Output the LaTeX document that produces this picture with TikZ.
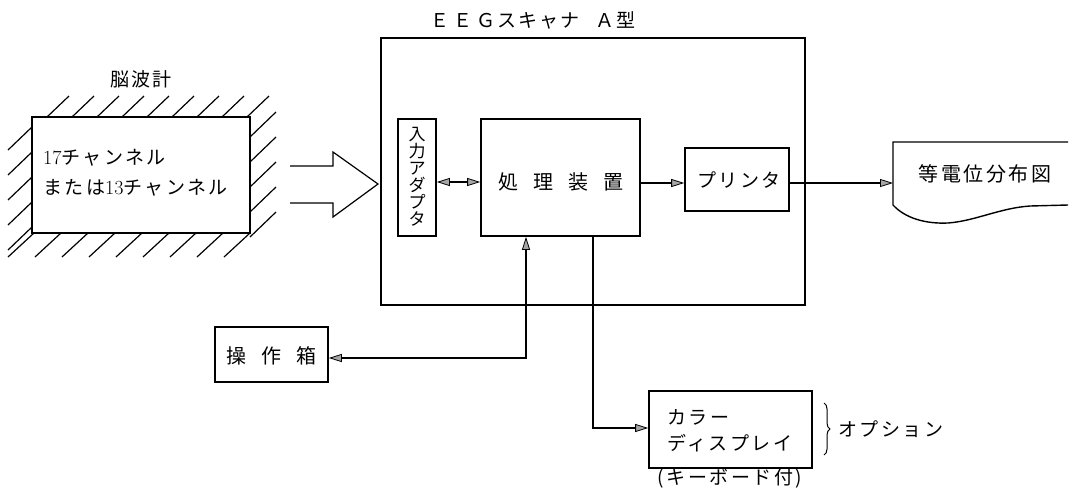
\documentclass[tikz,border=0pt]{standalone}
\usepackage{fontspec}
\newfontfamily\cjk{Noto Sans CJK JP}
\newfontfamily\cjkw[LetterSpace=13]{Noto Sans CJK JP}
\usetikzlibrary{arrows.meta,decorations.pathreplacing}
\tikzset{
  box/.style={draw, line width=1.6pt, inner sep=0pt},
  conn/.style={line width=1.2pt},
  tipshape/.tip={Triangle[length=13pt,width=8pt,fill=gray!70,line width=0.8pt]},
  tip/.style={-tipshape},
  bitip/.style={tipshape-tipshape},
  lbl/.style={inner sep=0pt, font=\cjkw\fontsize{19pt}{22pt}\selectfont},
  big/.style={inner sep=0pt, font=\cjk\fontsize{20pt}{22pt}\selectfont},
  hatch/.style={line width=1.2pt},
}
\newcommand\dig[1]{{\rmfamily\fontsize{20pt}{22pt}\selectfont #1}}
\begin{document}
\begin{tikzpicture}[x=1pt,y=-1pt]
\useasboundingbox (0,0) rectangle (1070,493);
% brain-wave meter
\node[lbl] (bwlabel) at (141,79) {脳波計};
\node[box, minimum width=218pt, minimum height=116pt] (brain) at (141,175) {};
\foreach \x in {47,72,...,247} \draw[hatch] (\x,117) -- (\x+22,96);
\foreach \y in {150,175,...,250} \draw[hatch] (8,\y) -- (32,\y-23);
\foreach \y in {137,162,...,237} \draw[hatch] (250,\y) -- (276,\y-25);
\foreach \x in {8,35,...,224} \draw[hatch] (\x,257) -- (\x+26,233);
\node[lbl, anchor=west] (t1) at (43,158) {\dig{17}チャンネル};
\node[lbl, anchor=west] (t2) at (43,188) {または\dig{13}チャンネル};
% big hollow arrow
\draw[line width=1.2pt] (290,166) -- (333,166) -- (333,152) -- (378,184) -- (333,217) -- (333,203) -- (290,203);
% EEG scanner
\node[box, minimum width=424pt, minimum height=267pt] (eeg) at (593,171.5) {};
\node[lbl, font=\cjk\fontsize{19pt}{22pt}\selectfont] (eeglabel) at (533,20) {Ｅ\hspace{4pt}Ｅ\hspace{4pt}Ｇ\hspace{2pt}ス\hspace{2pt}キ\hspace{2pt}ャ\hspace{2pt}ナ\hspace{16pt}Ａ\hspace{2pt}型};
\node[box, minimum width=38pt, minimum height=117pt] (adapter) at (417,177.5) {};
\node[inner sep=0pt, align=center, font=\cjk\fontsize{17pt}{17pt}\selectfont] (adtext) at (417,177) {入\\力\\ア\\ダ\\プ\\タ};
\node[box, minimum width=159pt, minimum height=117pt] (proc) at (560.5,177.5) {};
\node[big] (proctext) at (560.5,182) {処\hspace{15pt}理\hspace{15pt}装\hspace{15pt}置};
\node[box, minimum width=104pt, minimum height=63pt] (printer) at (737,179.5) {};
\node[lbl] (prtext) at (739,180) {プリンタ};
% output document
\coordinate (docw) at (893,183);
\draw[line width=1.4pt] (1068,142) -- (893,142) -- (893,205)
  .. controls (905,218) and (925,224) .. (948,223)
  .. controls (975,221) and (1000,208) .. (1030,206) -- (1068,205);
\node[lbl, font=\cjkw\fontsize{20pt}{22pt}\selectfont] (doctext) at (985,174) {等電位分布図};
% operation box
\node[box, minimum width=113pt, minimum height=55pt] (op) at (271.5,354.5) {};
\node[big] (optext) at (271.5,356) {操\hspace{15pt}作\hspace{15pt}箱};
% display
\node[box, minimum width=163pt, minimum height=77pt] (disp) at (730.5,429.5) {};
\node[lbl, anchor=west] (d1) at (667,417) {カラー};
\node[lbl, anchor=west] (d2) at (667,443) {ディスプレイ};
\node[lbl] (kb) at (730,478) {(キーボード付)};
\draw[line width=1pt, decorate, decoration={brace, amplitude=6pt}] (824,403) -- (824,455);
\node[lbl, anchor=west] (opt) at (838,429) {オプション};
% connectors
\coordinate (pa) at (0,182);
\coordinate (pr) at (0,183);
\coordinate (c1) at (526,358);
\coordinate (c2) at (593,428);
\draw[conn, bitip] (adapter.east |- pa) -- (proc.west |- pa);
\draw[conn, tip] (proc.east |- pr) -- (printer.west |- pr);
\draw[conn, tip] (printer.east |- pr) -- (docw);
\draw[conn, bitip] (op.east |- c1) -| (proc.south -| c1);
\draw[conn, tip] (proc.south -| c2) |- (disp.west |- c2);
\end{tikzpicture}
\end{document}
